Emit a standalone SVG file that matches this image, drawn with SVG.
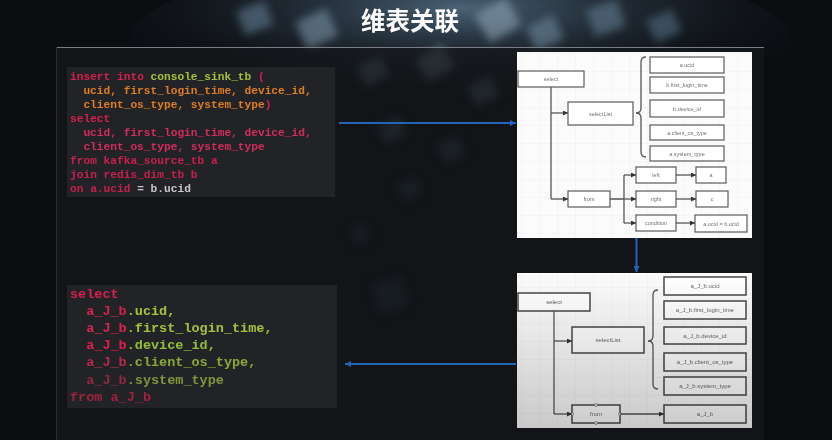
<svg xmlns="http://www.w3.org/2000/svg" width="832" height="440" viewBox="0 0 832 440">
<defs>
<style>
.box{fill:#ffffff;stroke:#5a5a5a;stroke-width:1.2}
.box2{fill:#ffffff;stroke:#474747;stroke-width:1.5}
.lbl{font-family:"Liberation Sans",Arial,sans-serif;font-size:5.5px;fill:#707070;text-anchor:middle}
.lbl2{font-family:"Liberation Sans",Arial,sans-serif;font-size:6px;fill:#666;text-anchor:middle}
.edge{stroke:#555;stroke-width:1.3;fill:none}
.arr{marker-end:url(#ah)}
.blue{stroke:#2266b8;stroke-width:2;fill:none;marker-end:url(#bh)}
.code1{font-family:"Liberation Mono","Courier New",monospace;font-size:11.2px;font-weight:bold}
.code2{font-family:"Liberation Mono","Courier New",monospace;font-size:13.5px;font-weight:bold}
.kw{fill:#d6204e}
.gr{fill:#a3c23a}
.or{fill:#e07e22}
.pk{fill:#d42c5c}
.wt{fill:#c8c8c8}
.grid{stroke:#ededed;stroke-width:0.7}
</style>
<marker id="ah" viewBox="0 0 10 10" refX="10" refY="5" markerWidth="5" markerHeight="5" orient="auto" markerUnits="userSpaceOnUse">
<path d="M0,0 L10,5 L0,10 z" fill="#333"/>
</marker>
<marker id="bh" viewBox="0 0 10 10" refX="10" refY="5" markerWidth="6" markerHeight="6" orient="auto" markerUnits="userSpaceOnUse">
<path d="M0,0 L10,5 L0,10 z" fill="#2266b8"/>
</marker>
<filter id="blur" x="-50%" y="-50%" width="200%" height="200%"><feGaussianBlur stdDeviation="4.5"/></filter>
<radialGradient id="glow" cx="0.5" cy="0.3" r="0.6">
<stop offset="0" stop-color="#5f8099" stop-opacity="0.75"/>
<stop offset="1" stop-color="#0b0e13" stop-opacity="0"/>
</radialGradient>
<linearGradient id="shade" x1="0" y1="0" x2="0" y2="1">
<stop offset="0" stop-color="#000" stop-opacity="0"/>
<stop offset="1" stop-color="#000" stop-opacity="0.2"/>
</linearGradient>
<pattern id="gridp" width="18" height="18" patternUnits="userSpaceOnUse">
<path d="M18,0 V18 M0,18 H18" class="grid"/>
</pattern>
</defs>

<!-- background -->
<rect x="0" y="0" width="832" height="440" fill="#0b0d11"/>
<g id="texture">
<ellipse cx="460" cy="40" rx="330" ry="80" fill="url(#glow)"/>
<g filter="url(#blur)" opacity="0.5">
<rect x="240" y="5" width="30" height="26" fill="#6f8fa8" transform="rotate(-20 255 18)"/>
<rect x="300" y="14" width="34" height="30" fill="#8aa8bc" transform="rotate(-25 317 29)"/>
<rect x="480" y="4" width="36" height="32" fill="#9db6c6" transform="rotate(-30 498 20)"/>
<rect x="530" y="20" width="30" height="26" fill="#7c9ab0" transform="rotate(-25 545 33)"/>
<rect x="590" y="4" width="32" height="28" fill="#6d8ba3" transform="rotate(-20 606 18)"/>
<rect x="650" y="14" width="28" height="24" fill="#5f7d95" transform="rotate(-25 664 26)"/>
<rect x="360" y="60" width="26" height="22" fill="#7c98ad" transform="rotate(-25 373 71)"/>
<rect x="420" y="50" width="30" height="26" fill="#8fa9bb" transform="rotate(-30 435 63)"/>
<rect x="470" y="80" width="26" height="22" fill="#6f8ca2" transform="rotate(-25 483 91)"/>
<rect x="380" y="120" width="24" height="20" fill="#5d7890" transform="rotate(-25 392 130)"/>
<rect x="440" y="140" width="22" height="20" fill="#4f6a80" transform="rotate(-25 451 150)"/>
<rect x="400" y="180" width="20" height="18" fill="#3f566a" transform="rotate(-25 410 189)"/>
<rect x="352" y="226" width="16" height="16" fill="#3b4f66" transform="rotate(-20 360 234)"/>
<rect x="375" y="280" width="30" height="30" fill="#3a4c64" transform="rotate(-20 390 295)"/>
</g>
</g>

<!-- frame -->
<rect x="56" y="47" width="708" height="393" fill="#15171b" fill-opacity="0.72"/>
<path d="M56,47.5 H764" stroke="#7a7e84" stroke-width="1"/>
<path d="M56.5,47 V440" stroke="#2c2f34" stroke-width="1"/>

<g id="title">
<text x="410" y="29.5" font-family="'Noto Sans CJK SC','Noto Sans',sans-serif" font-size="24.5" font-weight="bold" fill="#ffffff" text-anchor="middle">维表关联</text>
</g>

<g id="code1">
<rect x="67" y="67" width="268" height="130" fill="#222326"/>
<text class="code1" x="70" y="79.5"><tspan class="kw">insert into </tspan><tspan class="gr">console_sink_tb</tspan><tspan class="kw"> (</tspan></text>
<text class="code1 or" x="83.4" y="93.6">ucid, first_login_time, device_id,</text>
<text class="code1" x="83.4" y="107.7"><tspan class="or">client_os_type, system_type</tspan><tspan class="kw">)</tspan></text>
<text class="code1 kw" x="70" y="121.8">select</text>
<text class="code1 pk" x="83.4" y="135.9">ucid, first_login_time, device_id,</text>
<text class="code1 pk" x="83.4" y="150">client_os_type, system_type</text>
<text class="code1" x="70" y="164.1" fill="#c8204c">from kafka_source_tb a</text>
<text class="code1" x="70" y="178.2" fill="#c8204c">join redis_dim_tb b</text>
<text class="code1" x="70" y="192.3"><tspan fill="#c8204c">on a.ucid </tspan><tspan class="wt">= b.ucid</tspan></text>
</g>

<g id="code2">
<rect x="67" y="285" width="270" height="123" fill="#222326"/>
<text class="code2 kw" x="70" y="297.5">select</text>
<text class="code2" x="86.2" y="314.7"><tspan fill="#d4224e">a_J_b</tspan><tspan fill="#a9c43c">.ucid,</tspan></text>
<text class="code2" x="86.2" y="331.9"><tspan fill="#d62650">a_J_b</tspan><tspan fill="#a6c23c">.first_login_time,</tspan></text>
<text class="code2" x="86.2" y="349.1"><tspan fill="#e0204a">a_J_b</tspan><tspan fill="#92bf3a">.device_id,</tspan></text>
<text class="code2" x="86.2" y="366.3"><tspan fill="#b82a48">a_J_b</tspan><tspan fill="#8aa83a">.client_os_type,</tspan></text>
<text class="code2" x="86.2" y="383.5"><tspan fill="#8e2a42">a_J_b</tspan><tspan fill="#7f963a">.system_type</tspan></text>
<text class="code2" x="70" y="400.7" fill="#a0203f">from a_J_b</text>
</g>

<!-- top tree diagram -->
<g id="diagram1">
<rect x="517" y="52" width="235" height="186" fill="#fbfbfb"/>
<rect x="517" y="52" width="235" height="186" fill="url(#gridp)"/>
<g id="d1-select"><rect class="box" x="518" y="71" width="66" height="16"/><text class="lbl" x="551" y="81">select</text></g>
<g id="d1-selectList"><rect class="box" x="568" y="102" width="65" height="23"/><text class="lbl" x="600.5" y="115.5">selectList</text></g>
<g id="d1-from"><rect class="box" x="568" y="191" width="42" height="16"/><text class="lbl" x="589" y="201">from</text></g>
<g id="d1-f1"><rect class="box" x="650" y="57" width="74" height="16"/><text class="lbl" x="687" y="67">a.ucid</text></g>
<g id="d1-f2"><rect class="box" x="650" y="77" width="74" height="16"/><text class="lbl" x="687" y="87">b.first_login_time</text></g>
<g id="d1-f3"><rect class="box" x="650" y="100" width="74" height="17"/><text class="lbl" x="687" y="110.5">b.device_id</text></g>
<g id="d1-f4"><rect class="box" x="650" y="125" width="74" height="15"/><text class="lbl" x="687" y="134.5">a.client_os_type</text></g>
<g id="d1-f5"><rect class="box" x="650" y="146" width="74" height="15"/><text class="lbl" x="687" y="155.5">a.system_type</text></g>
<g id="d1-left"><rect class="box" x="636" y="167" width="40" height="16"/><text class="lbl" x="656" y="177">left</text></g>
<g id="d1-right"><rect class="box" x="636" y="191" width="40" height="16"/><text class="lbl" x="656" y="201">right</text></g>
<g id="d1-condition"><rect class="box" x="636" y="215" width="40" height="16"/><text class="lbl" x="656" y="225">condition</text></g>
<g id="d1-a"><rect class="box" x="696" y="167" width="30" height="16"/><text class="lbl" x="711" y="177">a</text></g>
<g id="d1-c"><rect class="box" x="696" y="191" width="32" height="16"/><text class="lbl" x="712" y="201">c</text></g>
<g id="d1-cond"><rect class="box" x="695" y="215" width="52" height="17"/><text class="lbl" x="721" y="225.5">a.ucid = b.ucid</text></g>
</g>

<!-- bottom tree diagram -->
<g id="diagram2">
<rect x="517" y="273" width="235" height="155" fill="#fbfbfb"/>
<rect x="517" y="273" width="235" height="155" fill="url(#gridp)"/>
<g id="d2-select"><rect class="box2" x="518" y="293" width="72" height="18"/><text class="lbl2" x="554" y="304">select</text></g>
<g id="d2-selectList"><rect class="box2" x="572" y="327" width="72" height="26"/><text class="lbl2" x="608" y="342">selectList</text></g>
<g id="d2-from"><rect class="box2" x="572" y="405" width="48" height="18"/><text class="lbl2" x="596" y="416">from</text>
<circle cx="596" cy="405" r="1.5" fill="#fff" stroke="#555" stroke-width="0.6"/>
<circle cx="596" cy="423" r="1.5" fill="#fff" stroke="#555" stroke-width="0.6"/>
<circle cx="572" cy="414" r="1.5" fill="#fff" stroke="#555" stroke-width="0.6"/>
<circle cx="620" cy="414" r="1.5" fill="#fff" stroke="#555" stroke-width="0.6"/></g>
<g id="d2-f1"><rect class="box2" x="664" y="277" width="82" height="18"/><text class="lbl2" x="705" y="288">a_J_b.ucid</text></g>
<g id="d2-f2"><rect class="box2" x="664" y="301" width="82" height="18"/><text class="lbl2" x="705" y="312">a_J_b.first_login_time</text></g>
<g id="d2-f3"><rect class="box2" x="664" y="327" width="82" height="17"/><text class="lbl2" x="705" y="337.5">a_J_b.device_id</text></g>
<g id="d2-f4"><rect class="box2" x="664" y="353" width="82" height="18"/><text class="lbl2" x="705" y="364">a_J_b.client_os_type</text></g>
<g id="d2-f5"><rect class="box2" x="664" y="377" width="82" height="18"/><text class="lbl2" x="705" y="388">a_J_b.system_type</text></g>
<g id="d2-ajb"><rect class="box2" x="664" y="405" width="82" height="18"/><text class="lbl2" x="705" y="416">a_J_b</text></g>
</g>

<g id="connectors">
<!-- diagram 1 -->
<path class="edge" d="M551,87 V199"/>
<path class="edge arr" d="M551,113 H568"/>
<path class="edge arr" d="M551,199 H568"/>
<path class="edge" d="M610,199 H624 M624,175 V223"/>
<path class="edge arr" d="M624,175 H636"/>
<path class="edge arr" d="M624,199 H636"/>
<path class="edge arr" d="M624,223 H636"/>
<path class="edge arr" d="M676,175 H696"/>
<path class="edge arr" d="M676,199 H696"/>
<path class="edge arr" d="M676,223 H695"/>
<path class="edge" stroke-width="1" d="M646,57 Q641,57 641,62 V108 Q641,113 636,113 Q641,113 641,118 V152 Q641,157 646,157"/>
<!-- diagram 2 -->
<path class="edge" d="M554,311 V414"/>
<path class="edge arr" d="M554,341 H572"/>
<path class="edge arr" d="M554,414 H572"/>
<path class="edge arr" d="M620,414 H664"/>
<path class="edge" stroke-width="1" d="M658,290 Q653,290 653,295 V336 Q653,341 648,341 Q653,341 653,346 V384 Q653,389 658,389"/>
<!-- blue flow arrows -->
<path class="blue" d="M339,123 H516"/>
<path class="blue" d="M636.5,238 V272"/>
<path class="blue" d="M516,364 H345"/>
</g>

<rect x="517" y="273" width="235" height="155" fill="url(#shade)"/>
</svg>
